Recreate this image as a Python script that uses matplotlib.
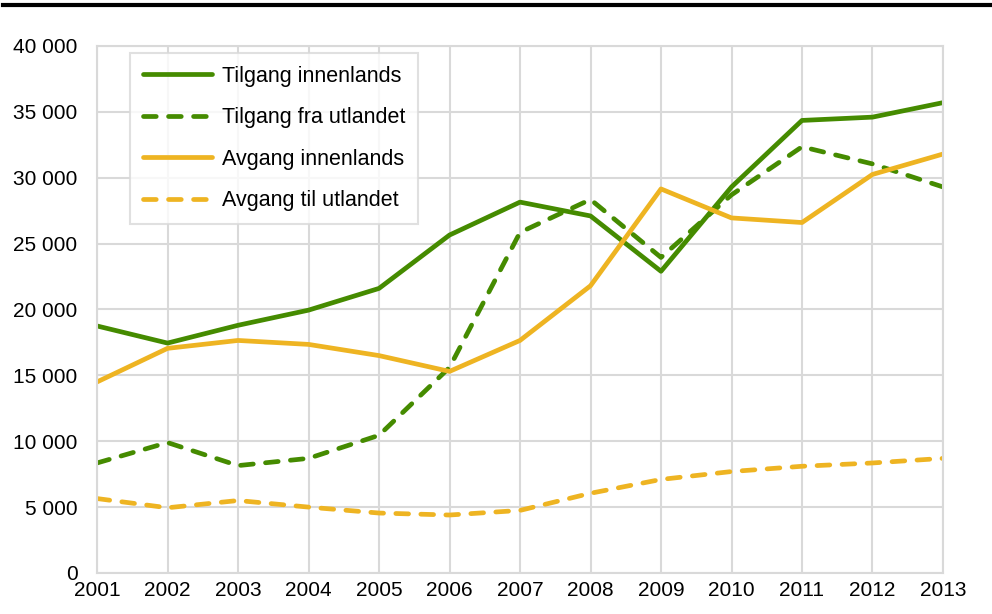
import matplotlib.pyplot as plt
from matplotlib.lines import Line2D
from matplotlib.ticker import FuncFormatter

plt.rcParams['font.family'] = ['Liberation Sans', 'DejaVu Sans']

years = [2001, 2002, 2003, 2004, 2005, 2006, 2007, 2008, 2009, 2010, 2011, 2012, 2013]
tilgang_innen = [18750, 17450, 18800, 19950, 21600, 25650, 28150, 27100, 22900, 29300, 34350, 34600, 35700]
tilgang_utland = [8350, 9900, 8150, 8700, 10450, 15600, 25850, 28350, 23950, 28700, 32350, 31050, 29300]
avgang_innen = [14500, 17050, 17650, 17350, 16500, 15300, 17650, 21800, 29150, 26950, 26600, 30250, 31800]
avgang_utland = [5650, 4950, 5500, 5000, 4550, 4400, 4750, 6050, 7100, 7700, 8100, 8350, 8700]

labels = ["Tilgang innenlands", "Tilgang fra utlandet", "Avgang innenlands", "Avgang til utlandet"]

green = "#458B00"
yellow = "#EEB422"
grid_col = "#D9D9D9"

fig = plt.figure(figsize=(9.92, 6.14), dpi=100)
ax = fig.add_axes([0.0978, 0.0668, 0.8528, 0.8583])

lw = 3.4
dash = (2.7, 2.6)
ax.plot(years, tilgang_innen, color=green, lw=lw, label=labels[0], solid_capstyle='round')
ax.plot(years, tilgang_utland, color=green, lw=lw, label=labels[1],
        dashes=dash, dash_capstyle='round')
ax.plot(years, avgang_innen, color=yellow, lw=lw, label=labels[2], solid_capstyle='round')
ax.plot(years, avgang_utland, color=yellow, lw=lw, label=labels[3],
        dashes=dash, dash_capstyle='round')

ax.set_xlim(2001, 2013)
ax.set_ylim(0, 40000)
ax.set_xticks(years)
ax.set_yticks(range(0, 40001, 5000))
ax.yaxis.set_major_formatter(FuncFormatter(lambda v, p: f"{int(v):,}".replace(",", " ")))

ax.grid(True, color=grid_col, lw=1.5)
ax.set_axisbelow(True)
for s in ax.spines.values():
    s.set_color(grid_col)
    s.set_linewidth(1.5)
ax.tick_params(length=0, labelsize=15)
ax.tick_params(axis='y', pad=14)
ax.tick_params(axis='x', pad=6)

leg = ax.legend(loc='upper left', bbox_to_anchor=(0.039, 0.987), borderaxespad=0,
                fontsize=15.5, handlelength=3.2, handletextpad=0.45, labelspacing=0.95,
                fancybox=False, edgecolor=grid_col, borderpad=0.6)
leg.get_frame().set_linewidth(1.5)

# thick black rule at the top
fig.add_artist(Line2D([0.003, 1.0], [0.992, 0.992], color='black', lw=3, transform=fig.transFigure))

fig.savefig("out.png", dpi=100)
